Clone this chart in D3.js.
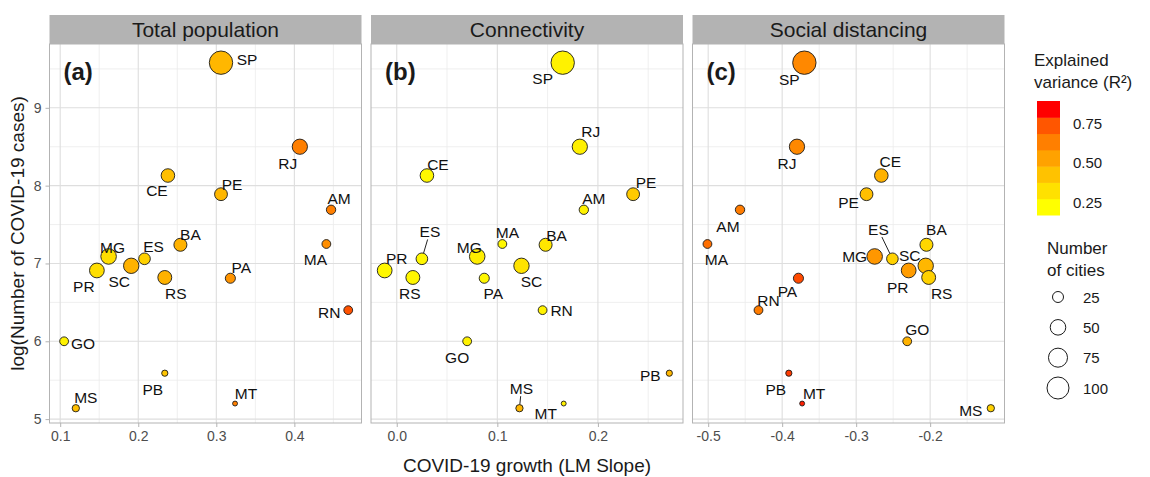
<!DOCTYPE html>
<html>
<head>
<meta charset="utf-8">
<script src="https://cdn.jsdelivr.net/npm/d3@7"></script>
<style>
  body { margin: 0; background: #fff; }
  svg { font-family: "Liberation Sans", Arial, sans-serif; }
</style>
</head>
<body>
<div id="chart"></div>
<script>
// datos: estados de Brasil
var estados = ["SP","RJ","CE","PE","AM","BA","MA","MG","ES","SC","PR","RS","PA","RN","GO","PB","MT","MS"];
var logCasos = [9.58, 8.50, 8.13, 7.89, 7.69, 7.24, 7.25, 7.09, 7.06, 6.97, 6.91, 6.82, 6.81, 6.40, 6.00, 5.59, 5.20, 5.14];
var ciudades = [113, 48, 38, 34, 18, 35, 16, 50, 28, 49, 45, 40, 21, 16, 16, 8, 5, 11];

var slopePoblacion = [0.306, 0.407, 0.238, 0.306, 0.447, 0.254, 0.441, 0.162, 0.208, 0.191, 0.147, 0.234, 0.318, 0.469, 0.105, 0.234, 0.324, 0.120];
var slopeConectividad = [0.165, 0.182, 0.030, 0.235, 0.186, 0.148, 0.105, 0.080, 0.025, 0.124, -0.012, 0.016, 0.087, 0.145, 0.070, 0.271, 0.166, 0.122];
var slopeDistancia = [-0.370, -0.380, -0.266, -0.286, -0.457, -0.205, -0.501, -0.275, -0.251, -0.206, -0.229, -0.202, -0.378, -0.432, -0.231, -0.391, -0.373, -0.118];

var r2Poblacion = [0.45, 0.65, 0.42, 0.45, 0.65, 0.47, 0.60, 0.30, 0.35, 0.47, 0.30, 0.47, 0.58, 0.78, 0.22, 0.40, 0.65, 0.42];
var r2Conectividad = [0.22, 0.23, 0.20, 0.38, 0.22, 0.27, 0.20, 0.24, 0.20, 0.28, 0.20, 0.20, 0.20, 0.22, 0.22, 0.45, 0.23, 0.45];
var r2Distancia = [0.62, 0.62, 0.47, 0.42, 0.66, 0.33, 0.70, 0.57, 0.35, 0.45, 0.55, 0.35, 0.80, 0.66, 0.47, 0.83, 0.87, 0.35];

var titulosPaneles = ["Total population", "Connectivity", "Social distancing"];
var etiquetasPaneles = ["(a)", "(b)", "(c)"];
var ticksX = [[0.1, 0.2, 0.3, 0.4], [0.0, 0.1, 0.2], [-0.5, -0.4, -0.3, -0.2]];
var ticksY = [5, 6, 7, 8, 9];
var leyendaR2 = [0.25, 0.50, 0.75];
var leyendaCiudades = [25, 50, 75, 100];

// posicion de las etiquetas (dx, dy en pixeles) tipo ggrepel
var desplazamientos = [
  {SP:[26,-3],RJ:[-12,17],CE:[-11,15],PE:[11,-10],AM:[8,-11],BA:[10,-10],MA:[-11,15],MG:[4,-9],ES:[9,-12],
   SC:[-12,16],PR:[-13,16],RS:[11,16],PA:[11,-11],RN:[-19,2],GO:[19,2],PB:[-12,16],MT:[11,-10],MS:[10,-11]},
  {SP:[-20,16],RJ:[11,-15],CE:[11,-11],PE:[13,-12],AM:[10,-11],MA:[5,-12],BA:[11,-9],ES:[8,-27],MG:[-8,-9],
   PR:[12,-12],SC:[10,16],RS:[-3,16],PA:[9,15],RN:[19,0],GO:[-10,16],PB:[-19,2],MS:[2,-20],MT:[-18,10]},
  {SP:[-15,17],RJ:[-10,17],CE:[9,-14],PE:[-18,8],AM:[-12,17],MA:[9,15],BA:[10,-15],MG:[-20,0],ES:[-14,-29],
   SC:[-16,-10],PR:[-11,17],RS:[13,16],PA:[-11,13],RN:[10,-10],GO:[10,-12],PB:[-13,16],MT:[12,-10],MS:[-20,2]}
];
var conLinea = [[], ["ES", "MS"], ["ES"]];

var paneles = [
  {slope: slopePoblacion, r2: r2Poblacion, dominio: [0.0863, 0.486]},
  {slope: slopeConectividad, r2: r2Conectividad, dominio: [-0.0256, 0.2846]},
  {slope: slopeDistancia, r2: r2Distancia, dominio: [-0.5212, -0.0995]}
];

var width = 1150, height = 477;
var margin = {top: 44, bottom: 423, left: 49.5};
var panelW = 312, gap = 9.5, stripH = 29;

var svg = d3.select("#chart").append("svg")
    .attr("width", width)
    .attr("height", height);

var y = d3.scaleLinear().domain([4.95, 9.82]).range([margin.bottom, margin.top]);

var colores = d3.scaleLinear()
    .domain([0.17, 0.89])
    .range(["#ffff00", "#ff0000"])
    .interpolate(d3.interpolateLab);

var radio = d3.scaleSqrt().domain([0, 100]).range([0, 11]);

paneles.forEach(function(p, i) {
    var x0 = margin.left + i * (panelW + gap);
    var x = d3.scaleLinear().domain(p.dominio).range([x0, x0 + panelW]);

    // strip
    svg.append("rect")
        .attr("x", x0).attr("y", margin.top - stripH)
        .attr("width", panelW).attr("height", stripH)
        .attr("fill", "#b3b3b3");
    svg.append("text")
        .attr("x", x0 + panelW / 2).attr("y", margin.top - stripH / 2 + 7.5)
        .attr("text-anchor", "middle")
        .attr("font-size", "21px")
        .attr("fill", "#1a1a1a")
        .text(titulosPaneles[i]);

    var g = svg.append("g");

    // rejilla menor
    var paso = ticksX[i][1] - ticksX[i][0];
    var menoresX = ticksX[i].map(function(t) { return t + paso / 2; })
        .concat([ticksX[i][0] - paso / 2])
        .filter(function(t) { return t > p.dominio[0] && t < p.dominio[1]; });
    var menoresY = ticksY.map(function(t) { return t + 0.5; });

    g.selectAll(".menorX").data(menoresX).enter().append("line")
        .attr("x1", function(d) { return x(d); }).attr("x2", function(d) { return x(d); })
        .attr("y1", margin.top).attr("y2", margin.bottom)
        .attr("stroke", "#ebebeb").attr("stroke-width", 0.8);
    g.selectAll(".menorY").data(menoresY).enter().append("line")
        .attr("x1", x0).attr("x2", x0 + panelW)
        .attr("y1", function(d) { return y(d); }).attr("y2", function(d) { return y(d); })
        .attr("stroke", "#ebebeb").attr("stroke-width", 0.8);

    // rejilla mayor
    g.selectAll(".mayorX").data(ticksX[i]).enter().append("line")
        .attr("x1", function(d) { return x(d); }).attr("x2", function(d) { return x(d); })
        .attr("y1", margin.top).attr("y2", margin.bottom)
        .attr("stroke", "#dedede").attr("stroke-width", 1.1);
    g.selectAll(".mayorY").data(ticksY).enter().append("line")
        .attr("x1", x0).attr("x2", x0 + panelW)
        .attr("y1", function(d) { return y(d); }).attr("y2", function(d) { return y(d); })
        .attr("stroke", "#dedede").attr("stroke-width", 1.1);

    // borde
    g.append("rect")
        .attr("x", x0).attr("y", margin.top)
        .attr("width", panelW).attr("height", margin.bottom - margin.top)
        .attr("fill", "none").attr("stroke", "#b3b3b3").attr("stroke-width", 1);

    // eje x
    var ejeX = svg.append("g")
        .attr("transform", "translate(0," + margin.bottom + ")")
        .call(d3.axisBottom(x).tickValues(ticksX[i]).tickSize(4).tickPadding(4)
            .tickFormat(d3.format(".1f")));
    ejeX.select(".domain").remove();
    ejeX.selectAll("line").attr("stroke", "#b3b3b3");
    ejeX.selectAll("text").attr("font-size", "14px").attr("fill", "#4d4d4d")
        .attr("font-family", "Liberation Sans, Arial, sans-serif")
        .text(function(d) { return d3.format(".1f")(d).replace("−", "-"); });

    if (i === 0) {
        var ejeY = svg.append("g")
            .attr("transform", "translate(" + x0 + ",0)")
            .call(d3.axisLeft(y).tickValues(ticksY).tickSize(4).tickPadding(4)
                .tickFormat(d3.format("d")));
        ejeY.select(".domain").remove();
        ejeY.selectAll("line").attr("stroke", "#b3b3b3");
        ejeY.selectAll("text").attr("font-size", "14px").attr("fill", "#4d4d4d")
            .attr("font-family", "Liberation Sans, Arial, sans-serif");
    }

    var datos = estados.map(function(e, k) {
        return {estado: e, x: p.slope[k], y: logCasos[k], n: ciudades[k], r2: p.r2[k]};
    });

    // lineas de etiquetas
    datos.filter(function(d) { return conLinea[i].indexOf(d.estado) >= 0; }).forEach(function(d) {
        var off = desplazamientos[i][d.estado];
        var px = x(d.x), py = y(d.y);
        var lx = px + off[0], ly = py + off[1];
        var len = Math.sqrt(off[0] * off[0] + off[1] * off[1]);
        var ux = -off[0] / len, uy = -off[1] / len;
        g.append("line")
            .attr("x1", lx + ux * 8).attr("y1", ly + uy * 8)
            .attr("x2", px - ux * radio(d.n)).attr("y2", py - uy * radio(d.n))
            .attr("stroke", "#222").attr("stroke-width", 1);
    });

    // puntos, los grandes primero
    g.selectAll(".punto")
        .data(datos.slice().sort(function(a, b) { return b.n - a.n; }))
        .enter().append("circle")
        .attr("class", "punto")
        .attr("cx", function(d) { return x(d.x); })
        .attr("cy", function(d) { return y(d.y); })
        .attr("r", function(d) { return radio(d.n); })
        .attr("fill", function(d) { return colores(d.r2); })
        .attr("stroke", "#1a1a1a").attr("stroke-width", 0.9);

    g.selectAll(".etiqueta")
        .data(datos)
        .enter().append("text")
        .attr("class", "etiqueta")
        .attr("x", function(d) { return x(d.x) + desplazamientos[i][d.estado][0]; })
        .attr("y", function(d) { return y(d.y) + desplazamientos[i][d.estado][1] + 5.5; })
        .attr("text-anchor", "middle")
        .attr("font-size", "15.5px")
        .attr("fill", "#111")
        .text(function(d) { return d.estado; });

    svg.append("text")
        .attr("x", x0 + 14).attr("y", 80)
        .attr("font-size", "24px").attr("font-weight", "bold")
        .attr("fill", "#1a1a1a")
        .text(etiquetasPaneles[i]);
});

// titulos de ejes
svg.append("text")
    .attr("x", margin.left + (3 * panelW + 2 * gap) / 2).attr("y", 472)
    .attr("text-anchor", "middle").attr("font-size", "19px").attr("fill", "#1a1a1a")
    .text("COVID-19 growth (LM Slope)");
svg.append("text")
    .attr("transform", "translate(24," + ((margin.top + margin.bottom) / 2) + ") rotate(-90)")
    .attr("text-anchor", "middle").attr("font-size", "19px").attr("fill", "#1a1a1a")
    .text("log(Number of COVID-19 cases)");

// leyenda de color
var leyenda = svg.append("g");
leyenda.append("text").attr("x", 1034).attr("y", 66).attr("font-size", "17px").attr("fill", "#1a1a1a").text("Explained");
leyenda.append("text").attr("x", 1034).attr("y", 88).attr("font-size", "17px").attr("fill", "#1a1a1a").text("variance (R²)");

var yLey = d3.scaleLinear().domain([0.17, 0.89]).range([215, 101]);
var nBandas = 7;
var bandas = d3.range(nBandas);
var alto = (yLey(0.17) - yLey(0.89)) / nBandas;
leyenda.selectAll(".banda").data(bandas).enter().append("rect")
    .attr("x", 1037).attr("y", function(d) { return yLey(0.17) - (d + 1) * alto; })
    .attr("width", 23).attr("height", alto + 0.5)
    .attr("fill", function(d) { return colores(0.17 + (0.89 - 0.17) * d / (nBandas - 1)); });
leyenda.selectAll(".etR2").data(leyendaR2).enter().append("text")
    .attr("x", 1073).attr("y", function(d) { return yLey(d) + 5.5; })
    .attr("font-size", "15px").attr("fill", "#1a1a1a")
    .text(function(d) { return d3.format(".2f")(d); });

// leyenda de tamaño
leyenda.append("text").attr("x", 1047).attr("y", 254).attr("font-size", "17px").attr("fill", "#1a1a1a").text("Number");
leyenda.append("text").attr("x", 1047).attr("y", 276).attr("font-size", "17px").attr("fill", "#1a1a1a").text("of cities");
var yTam = d3.scalePoint().domain(leyendaCiudades).range([297, 388]);
leyenda.selectAll(".circTam").data(leyendaCiudades).enter().append("circle")
    .attr("cx", 1058).attr("cy", function(d) { return yTam(d); })
    .attr("r", function(d) { return radio(d); })
    .attr("fill", "none").attr("stroke", "#1a1a1a").attr("stroke-width", 1);
leyenda.selectAll(".etTam").data(leyendaCiudades).enter().append("text")
    .attr("x", 1083).attr("y", function(d) { return yTam(d) + 5.5; })
    .attr("font-size", "15px").attr("fill", "#1a1a1a")
    .text(function(d) { return d; });
</script>
</body>
</html>
